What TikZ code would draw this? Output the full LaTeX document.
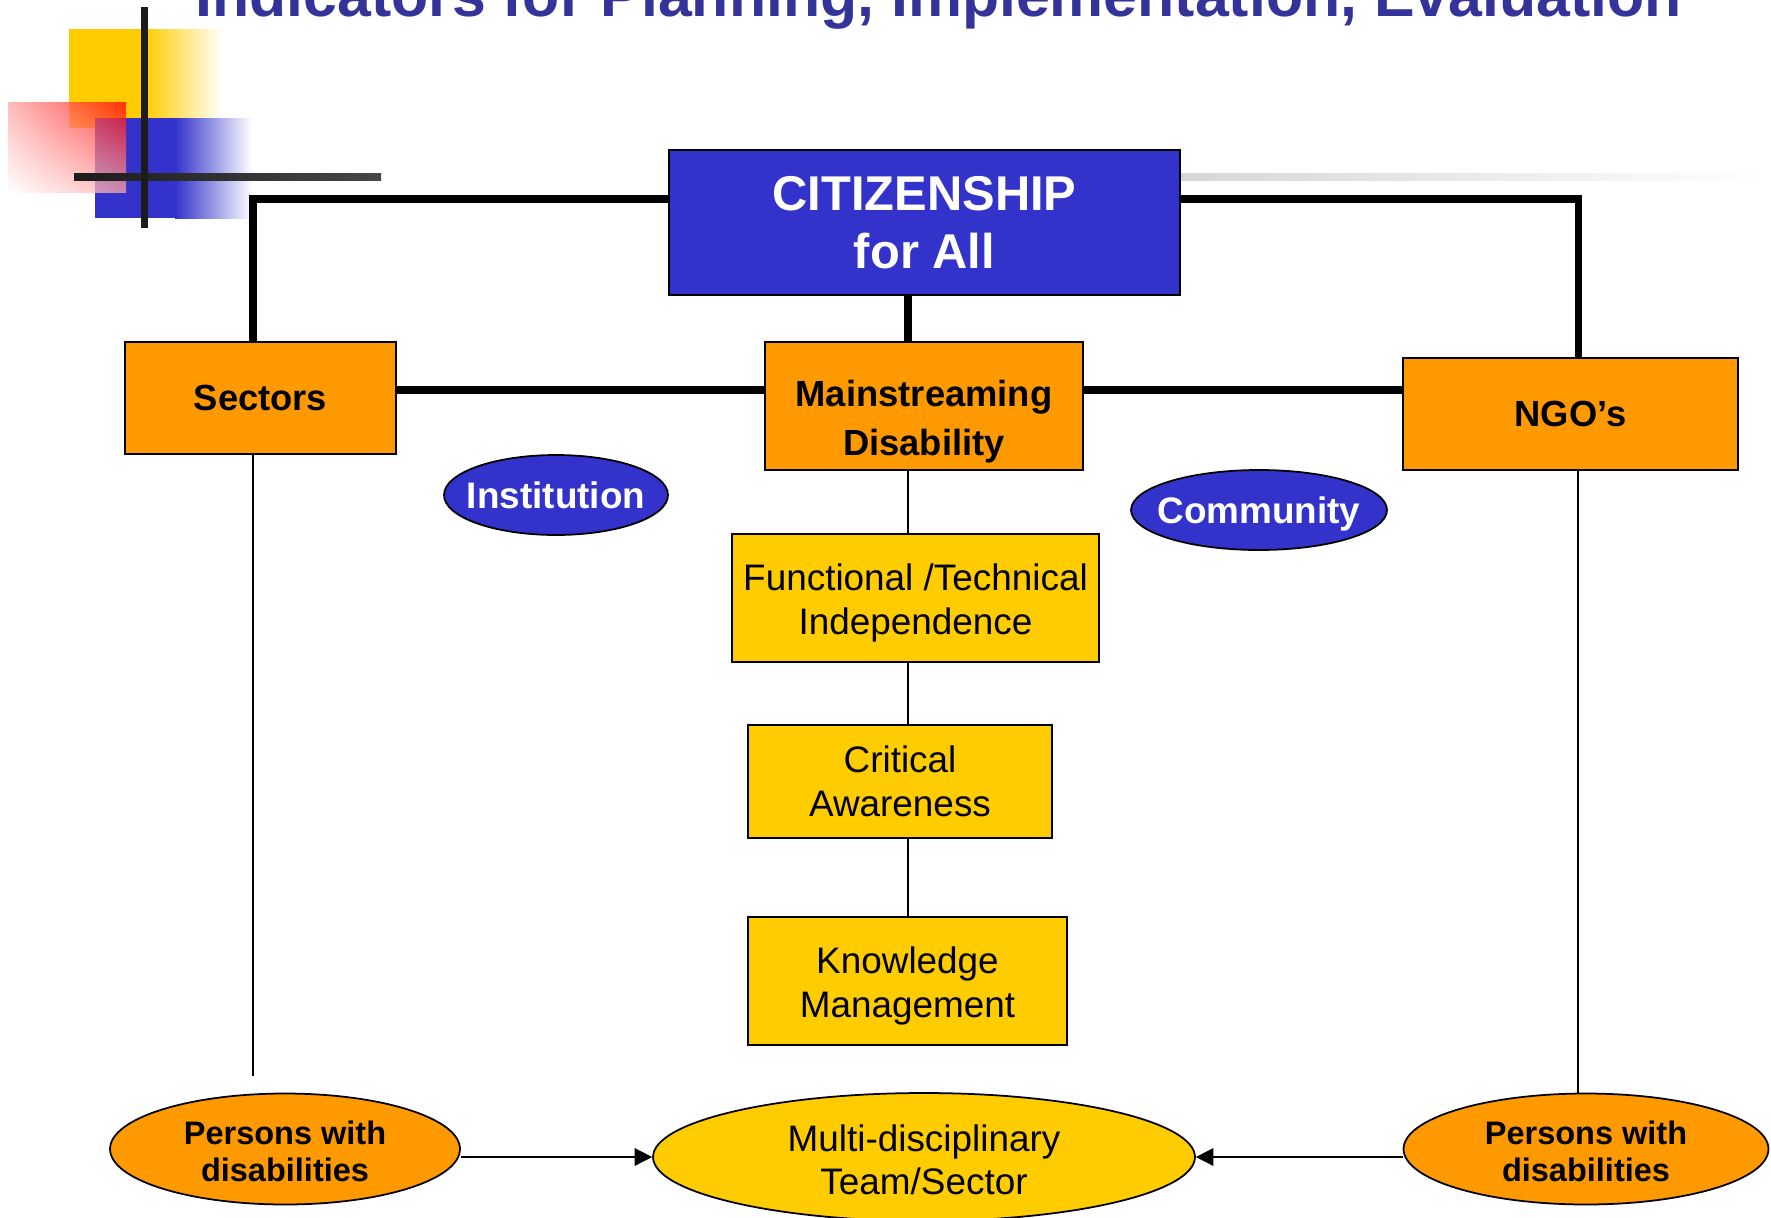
\documentclass[tikz,border=0pt]{standalone}
\usepackage{fontspec}
\setmainfont{Liberation Sans}
\usetikzlibrary{arrows.meta,shapes.geometric,shadings}
\definecolor{cblue}{HTML}{3333CC}
\definecolor{corange}{HTML}{FF9900}
\definecolor{cyellow}{HTML}{FFCC00}
\definecolor{ctitle}{HTML}{333399}
\definecolor{cbar}{HTML}{1C1C1C}
\tikzset{
  boxbase/.style={draw=black, line width=1pt, inner sep=0pt, align=center, text=black},
  bluebox/.style={boxbase, fill=cblue, text=white, font=\bfseries\fontsize{27.8}{32.9}\selectfont},
  orangebox/.style={boxbase, fill=corange, font=\bfseries\fontsize{20.7}{27.8}\selectfont},
  yellowbox/.style={boxbase, fill=cyellow, font=\fontsize{21}{25.2}\selectfont},
  blueell/.style={ellipse, draw=black, line width=1pt, fill=cblue, text=white, inner sep=0pt, font=\bfseries\fontsize{21}{25}\selectfont},
  orangeell/.style={ellipse, draw=black, line width=1pt, fill=corange, inner sep=0pt, align=center, font=\bfseries\fontsize{18.5}{21.5}\selectfont},
  yellowell/.style={ellipse, draw=black, line width=1pt, fill=cyellow, inner sep=0pt, align=center, font=\fontsize{21}{24.4}\selectfont},
  thickconn/.style={line width=4pt, draw=black},
  thinconn/.style={line width=0.85pt, draw=black},
  arrconn/.style={line width=0.85pt, draw=black, -{Triangle[length=10pt,width=10pt]}},
}
\begin{document}
\begin{tikzpicture}[x=0.02cm, y=-0.02cm]
\useasboundingbox (0,0) rectangle (1771,1217);
\fill[white] (0,0) rectangle (1771,1217);

% decoration
\fill[cyellow] (69,29) rectangle (146,128);
\shade[left color=cyellow, right color=white] (145,29) rectangle (222,128);
\fill[cblue] (95,118) rectangle (176,218);
\shade[left color=cblue, right color=white] (175,118) rectangle (252,218);
\shade[fill opacity=0.75, upper right=red, upper left=red!35!white, lower right=red!35!white, lower left=white] (8,102) rectangle (126,192);
\shade[left color=cbar, right color=black!72] (74,173) rectangle (381,180);
\fill[cbar] (141,7) rectangle (148,228);
\shade[left color=black!16, right color=white] (1180,173) rectangle (1771,180);

% title
\node[anchor=base west, inner sep=0pt, text=ctitle, font=\bfseries\fontsize{34.6}{40}\selectfont] (title) at (195,16) {Indicators for Planning, Implementation, Evaluation};

% helper coordinates
\coordinate (lx) at (253,0);
\coordinate (rx) at (1578,0);
\coordinate (vx) at (908,0);
\coordinate (ty) at (0,199);
\coordinate (hy) at (0,390);
\coordinate (ay) at (0,1157);
\coordinate (lend) at (253,1076);

% boxes
\node[bluebox, minimum width=10.22cm, minimum height=2.9cm] (cit) at (924.5,222.5) {CITIZENSHIP\\for All};
\node[orangebox, minimum width=5.42cm, minimum height=2.24cm] (sectors) at (260.5,398) {Sectors};
\node[orangebox, minimum width=6.36cm, minimum height=2.56cm] (main) at (924,406) {\rule{0pt}{33pt}Mainstreaming\\Disability};
\node[orangebox, minimum width=6.7cm, minimum height=2.24cm] (ngo) at (1570.5,414) {NGO’s};
\node[yellowbox, minimum width=7.34cm, minimum height=2.56cm] (func) at (915.5,598) {\rule{0pt}{20.5pt}Functional /Technical\\Independence};
\node[yellowbox, minimum width=6.08cm, minimum height=2.26cm] (crit) at (900,781.5) {Critical\\Awareness};
\node[yellowbox, minimum width=6.38cm, minimum height=2.56cm] (know) at (907.5,981) {\rule{0pt}{20.5pt}Knowledge\\Management};

% ellipses
\node[blueell, minimum width=4.48cm, minimum height=1.6cm] (inst) at (556,495) {\makebox[0pt]{Institution}};
\node[blueell, minimum width=5.12cm, minimum height=1.6cm] (comm) at (1259,510) {\makebox[0pt]{\rule{0pt}{20pt}Community}};
\node[orangeell, minimum width=7cm, minimum height=2.22cm] (pl) at (285,1149) {\rule{0pt}{16pt}Persons with\\disabilities};
\node[orangeell, minimum width=7.3cm, minimum height=2.22cm] (pr) at (1586,1149) {\rule{0pt}{16pt}Persons with\\disabilities};
\node[yellowell, minimum width=10.84cm, minimum height=2.56cm] (multi) at (924,1157) {\rule{0pt}{18pt}Multi-disciplinary\\Team/Sector};

% thick connectors
\draw[thickconn] (sectors.north -| lx) |- (cit.west |- ty);
\draw[thickconn] (cit.east |- ty) -| (ngo.north -| rx);
\draw[thickconn] (cit.south -| vx) -- (main.north -| vx);
\draw[thickconn] (sectors.east |- hy) -- (main.west |- hy);
\draw[thickconn] (main.east |- hy) -- (ngo.west |- hy);

% thin connectors
\draw[thinconn] (main.south -| vx) -- (func.north -| vx);
\draw[thinconn] (func.south -| vx) -- (crit.north -| vx);
\draw[thinconn] (crit.south -| vx) -- (know.north -| vx);
\draw[thinconn] (sectors.south -| lx) -- (lend);
\draw[thinconn] (ngo.south -| rx) -- (pr.north -| rx);

% arrows
\draw[arrconn] (pl.east |- ay) -- (multi.west |- ay);
\draw[arrconn] (pr.west |- ay) -- (multi.east |- ay);
\end{tikzpicture}
\end{document}
